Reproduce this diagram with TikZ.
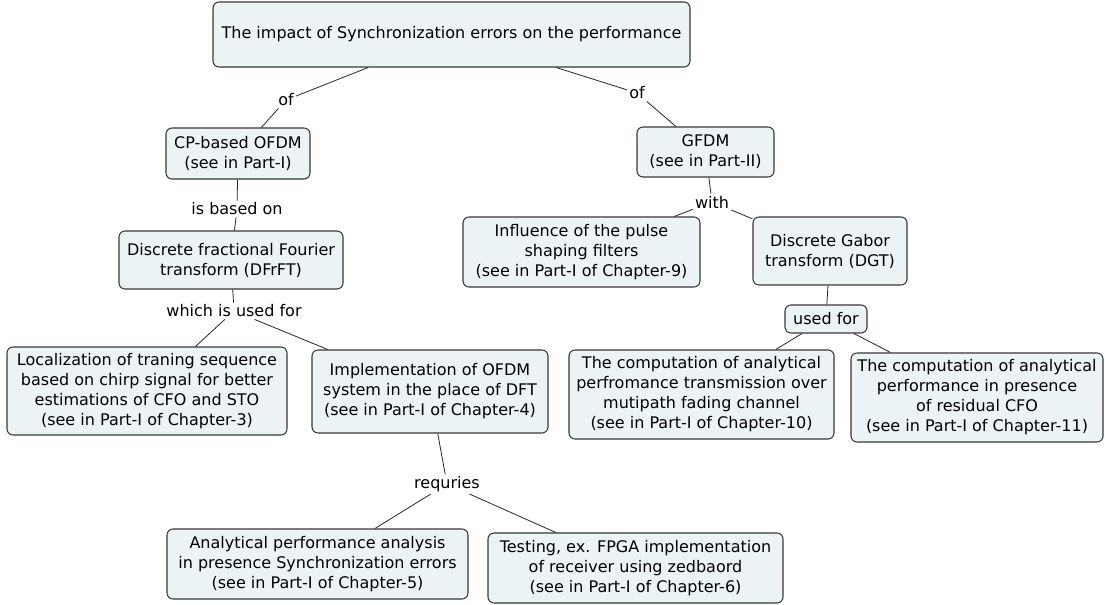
\documentclass[tikz,border=0pt]{standalone}
\usepackage{fontspec}
\setmainfont{DejaVu Sans}
\definecolor{boxfill}{RGB}{236,243,245}
\definecolor{boxline}{RGB}{55,55,55}
\tikzset{
  concept/.style={draw=boxline,fill=boxfill,rounded corners=4.5pt,line width=0.8pt,align=center,inner sep=0pt,font=\fontsize{12}{15}\selectfont},
  linkword/.style={inner sep=1.5pt,font=\fontsize{12}{15}\selectfont},
  link/.style={line width=0.6pt,black!85}
}
\begin{document}
\begin{tikzpicture}[x=0.75pt,y=-0.75pt]
\useasboundingbox (0,0) rectangle (1105,605);

\node[concept,minimum width=357.75pt,minimum height=48.75pt] (impact) at (451.5,34.5) {The impact of Synchronization errors on the performance};
\node[concept,minimum width=108pt,minimum height=38.25pt] (cpofdm) at (238,153.5) {CP-based OFDM\\(see in Part-I)};
\node[concept,minimum width=102.75pt,minimum height=37.5pt] (gfdm) at (705.5,152) {GFDM\\(see in Part-II)};
\node[concept,minimum width=168pt,minimum height=43.5pt] (dfrft) at (231,260) {Discrete fractional Fourier\\transform (DFrFT)};
\node[concept,minimum width=210pt,minimum height=66pt] (training) at (147,391) {Localization of traning sequence\\based on chirp signal for better\\estimations of CFO and STO\\(see in Part-I of Chapter-3)};
\node[concept,minimum width=177pt,minimum height=62.25pt] (implem) at (430,391.5) {Implementation of OFDM\\system in the place of DFT\\(see in Part-I of Chapter-4)};
\node[concept,minimum width=225.75pt,minimum height=52.5pt] (analysis) at (317.5,564) {Analytical performance analysis\\in presence Synchronization errors\\(see in Part-I of Chapter-5)};
\node[concept,minimum width=221.25pt,minimum height=52.5pt] (testing) at (635.5,568) {Testing, ex. FPGA implementation\\of receiver using zedbaord\\(see in Part-I of Chapter-6)};
\node[concept,minimum width=177.75pt,minimum height=52.5pt] (pulse) at (581.5,252) {Influence of the pulse\\shaping filters\\(see in Part-I of Chapter-9)};
\node[concept,minimum width=115.5pt,minimum height=51pt] (dgt) at (830,251) {Discrete Gabor\\transform (DGT)};
\node[concept,minimum width=61.5pt,minimum height=21pt] (usedfor2) at (826,319) {used for};
\node[concept,minimum width=198.75pt,minimum height=66.75pt] (fading) at (701.5,394.5) {The computation of analytical\\perfromance transmission over\\mutipath fading channel\\(see in Part-I of Chapter-10)};
\node[concept,minimum width=189pt,minimum height=66.75pt] (residual) at (977,397.5) {The computation of analytical\\performance in presence\\of residual CFO\\(see in Part-I of Chapter-11)};

\node[linkword] (of1) at (286,100) {of};
\node[linkword] (of2) at (637,93) {of};
\node[linkword] (basedon) at (237,209) {is based on};
\node[linkword] (usedfor1) at (234,311) {which is used for};
\node[linkword] (with) at (712,202) {with};
\node[linkword] (requires) at (447,484) {requries};

\draw[link] (impact) -- (of1) -- (cpofdm);
\draw[link] (impact) -- (of2) -- (gfdm);
\draw[link] (cpofdm) -- (basedon) -- (dfrft);
\draw[link] (dfrft) -- (usedfor1) -- (training);
\draw[link] (usedfor1) -- (implem);
\draw[link] (implem) -- (requires) -- (analysis);
\draw[link] (requires) -- (testing);
\draw[link] (gfdm) -- (with) -- (pulse);
\draw[link] (with) -- (dgt);
\draw[link] (dgt) -- (usedfor2) -- (fading);
\draw[link] (usedfor2) -- (residual);

\end{tikzpicture}
\end{document}
